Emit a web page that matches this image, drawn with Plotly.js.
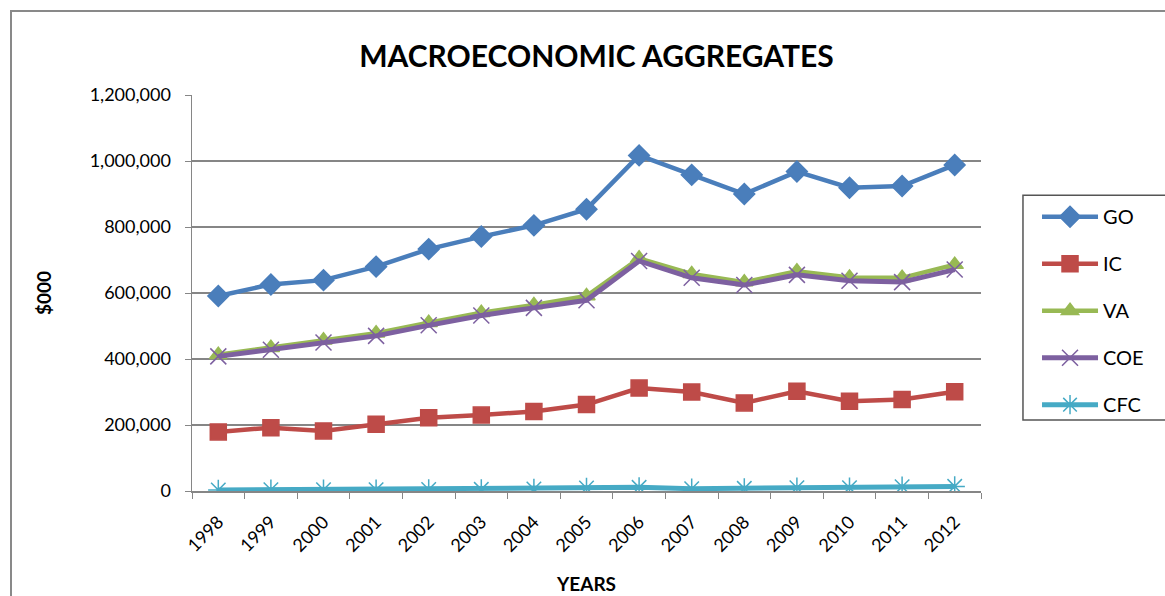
<!DOCTYPE html>
<html>
<head>
<meta charset="utf-8">
<script src="https://cdn.plot.ly/plotly-3.0.1.min.js"></script>
<style>
html,body{margin:0;padding:0;background:#fff;}
#chart{width:1165px;height:596px;}
</style>
</head>
<body>
<div id="chart"></div>
<script>
const years = ["1998","1999","2000","2001","2002","2003","2004","2005","2006","2007","2008","2009","2010","2011","2012"];
const GO  = [591000, 626000, 639000, 680000, 733000, 771000, 805000, 854000, 1017000, 958000, 900000, 968000, 919000, 924000, 988000];
const IC  = [179000, 192000, 182000, 202000, 222000, 230000, 241000, 262000, 312000, 300000, 267000, 302000, 272000, 277000, 301000];
const VA  = [413000, 434000, 457000, 478000, 510000, 540000, 564000, 591000, 705000, 658000, 633000, 666000, 647000, 646000, 686000];
const COE = [408000, 428000, 450000, 470000, 502000, 532000, 555000, 578000, 697000, 646000, 624000, 655000, 637000, 633000, 671000];
const CFC = [3000, 4000, 4000, 4000, 4500, 5000, 6000, 9000, 11000, 7000, 8000, 10000, 10000, 13000, 14000];
const yTickVals = [0, 200000, 400000, 600000, 800000, 1000000, 1200000];
const yTickText = ["0", "200,000", "400,000", "600,000", "800,000", "1,000,000", "1,200,000"];

const FONT = "Lato, 'Open Sans', sans-serif";

function tr(name, y, color, symbol, size, lw, grp) {
  return {
    type: "scatter", mode: "lines+markers", name: name, x: years, y: y,
    legendgroup: grp,
    line: {color: color, width: lw},
    marker: {symbol: symbol, size: size, color: color, line: {color: color, width: 1.5}}
  };
}

const data = [
  tr("GO", GO, "#4A7EBB", "diamond", 16, 4.5, "a"),
  tr("IC", IC, "#BE4B48", "square", 16, 4.5, "b"),
  tr("VA", VA, "#98B954", "triangle-up", 15, 4.5, "c"),
  tr("COE", COE, "#7D60A0", "x-thin-open", 16, 5, "d"),
  tr("CFC", CFC, "#46AAC5", "asterisk-open", 17, 5, "e")
];

const layout = {
  width: 1165, height: 596,
  margin: {l: 192, r: 184, t: 95, b: 105},
  paper_bgcolor: "#fff", plot_bgcolor: "#fff",
  font: {family: FONT, color: "#000", size: 18},
  title: {text: "<b>MACROECONOMIC AGGREGATES</b>", font: {family: FONT, size: 30, color: "#000"},
          x: 0.512, xanchor: "center", y: 0.906, yanchor: "middle"},
  xaxis: {
    type: "category", range: [-0.5, 14.5], showgrid: false, showline: true, linecolor: "#868686", linewidth: 1.5,
    ticks: "outside", tickson: "boundaries", ticklen: 6, tickcolor: "#868686",
    tickangle: -45, tickfont: {size: 18, family: FONT}, ticklabelstandoff: 12,
    title: {text: "<b>YEARS</b>", font: {size: 19, family: FONT}, standoff: 23},
    zeroline: false
  },
  yaxis: {
    range: [0, 1200000], tickvals: yTickVals, ticktext: yTickText,
    showgrid: true, gridcolor: "#868686", gridwidth: 1.5,
    showline: true, linecolor: "#868686", linewidth: 1.5,
    ticks: "outside", ticklen: 6, tickcolor: "#868686",
    tickfont: {size: 18, family: FONT}, ticklabelstandoff: 10,
    title: {text: "<b>$000</b>", font: {size: 19, family: FONT}, standoff: 33},
    zeroline: false
  },
  legend: {
    x: 1.071, xanchor: "left", y: 0.742, yanchor: "top",
    borderwidth: 0, bgcolor: "rgba(0,0,0,0)",
    font: {size: 20, family: FONT}, traceorder: "grouped", tracegroupgap: 18,
    itemwidth: 56
  },
  shapes: [{
    type: "rect", xref: "paper", yref: "paper", x0: -0.2294, x1: 2, y0: -1, y1: 1.212,
    line: {color: "#898989", width: 2}, fillcolor: "rgba(0,0,0,0)", layer: "below"
  }, {
    type: "rect", xref: "paper", yref: "paper", x0: 1.0532, x1: 1.4, y0: 0.179, y1: 0.747,
    line: {color: "#555", width: 1.5}, fillcolor: "rgba(0,0,0,0)", layer: "below"
  }],
  showlegend: true
};

Plotly.newPlot("chart", data, layout, {displayModeBar: false, staticPlot: true});
</script>
</body>
</html>
